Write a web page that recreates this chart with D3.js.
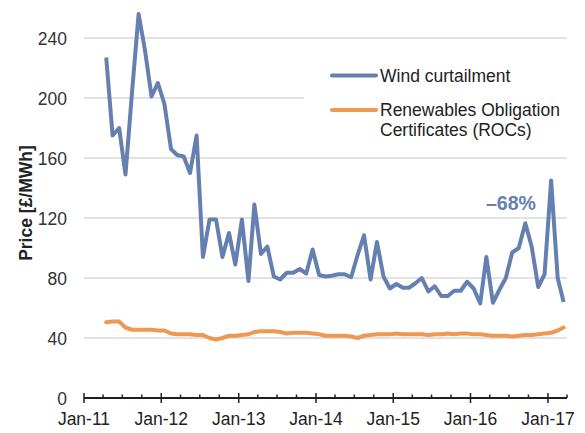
<!DOCTYPE html>
<html>
<head>
<meta charset="utf-8">
<script src="https://cdn.jsdelivr.net/npm/d3@7"></script>
<style>
  html, body { margin: 0; padding: 0; background: #fff; }
  text { font-family: "Liberation Sans", Arial, sans-serif; }
</style>
</head>
<body>
<div id="chart"></div>
<script>
// monthly prices, Apr-11 .. Mar-17
const months = d3.timeMonth.range(new Date(2011, 3, 1), new Date(2017, 3, 1));

const windCurtailment = [
  227, 175, 180, 149, 204, 256, 232, 201, 210,                 // 2011
  196, 166, 162, 161, 150, 175, 94, 119, 119, 94, 110, 89,     // 2012
  119, 78, 129, 96, 101, 81, 79, 83.5, 83.5, 86, 83, 99,       // 2013
  82, 81, 81.5, 82.5, 82.5, 80.5, 95, 108.5, 79, 104, 81, 73,  // 2014
  76, 73.5, 73.5, 76.5, 80, 71, 74.5, 68, 68, 71.5, 71.5, 77.5,// 2015
  73, 63, 94, 63.5, 72, 80, 97, 100, 116.5, 101, 74, 82.5,     // 2016
  145, 80, 64                                                  // 2017
];

const rocs = [
  50.5, 51, 51, 47, 45.5, 45.5, 45.5, 45.5, 45,
  45, 43, 42.5, 42.5, 42.5, 42, 42, 40, 39, 40, 41.5, 41.5,
  42, 42.5, 44, 44.5, 44.5, 44.5, 44, 43, 43.5, 43.5, 43.5, 43,
  42.5, 41.5, 41.5, 41.5, 41.5, 41, 40, 41.5, 42, 42.5, 42.5, 42.5,
  43, 42.5, 42.5, 42.5, 42.5, 42, 42.5, 42.5, 43, 42.5, 43, 43,
  42.5, 42.5, 42, 41.5, 41.5, 41.5, 41, 41.5, 42, 42, 42.5, 43,
  43.5, 45, 47
];

const yTicks = [0, 40, 80, 120, 160, 200, 240];
const seriesNames = ["Wind curtailment", ["Renewables Obligation", "Certificates (ROCs)"]];
const changeLabel = "\u201368%";

const BLUE = "#6580B0";
const ORANGE = "#EE9852";

const W = 585, H = 433;
const svg = d3.select("#chart").append("svg")
  .attr("width", W).attr("height", H);

const x = d3.scaleTime()
  .domain([new Date(2011, 0, 1), new Date(2017, 3, 1)])
  .range([84, 567]);

const y = d3.scaleLinear()
  .domain([0, 260])
  .range([398, 8]);

const mid = d => d3.timeDay.offset(d, 15);

// gridlines
svg.append("g")
  .selectAll("line")
  .data(yTicks.filter(v => v > 0))
  .enter().append("line")
  .attr("x1", x.range()[0]).attr("x2", x.range()[1])
  .attr("y1", d => y(d)).attr("y2", d => y(d))
  .attr("stroke", "#D9D9D9").attr("stroke-width", 1.5);

// y tick labels
svg.append("g")
  .selectAll("text")
  .data(yTicks)
  .enter().append("text")
  .attr("x", 67)
  .attr("y", d => y(d) + 6.5)
  .attr("text-anchor", "end")
  .style("font-size", "17.5px")
  .style("fill", "#333")
  .text(d => d);

// y title
svg.append("text")
  .attr("transform", "translate(32,203) rotate(-90)")
  .attr("text-anchor", "middle")
  .style("font-size", "17.5px")
  .style("font-weight", "bold")
  .style("fill", "#222")
  .text("Price [£/MWh]");

// lines
const line = d3.line()
  .x((d, i) => x(mid(months[i])))
  .y(d => y(d));

svg.append("path")
  .datum(rocs)
  .attr("d", line)
  .attr("fill", "none")
  .attr("stroke", ORANGE)
  .attr("stroke-width", 4)
  .attr("stroke-linejoin", "round")
  .attr("stroke-linecap", "round");

svg.append("path")
  .datum(windCurtailment)
  .attr("d", line)
  .attr("fill", "none")
  .attr("stroke", BLUE)
  .attr("stroke-width", 4)
  .attr("stroke-linejoin", "round");

// x axis
const xAxis = svg.append("g").attr("transform", `translate(0,${y(0)})`);
xAxis.append("line")
  .attr("x1", x.range()[0]).attr("x2", x.range()[1])
  .attr("stroke", "#231F20").attr("stroke-width", 2);

const quarters = d3.timeMonth.every(3).range(new Date(2011, 0, 1), new Date(2017, 3, 2));
xAxis.selectAll(".tick")
  .data(quarters)
  .enter().append("line")
  .attr("x1", d => x(d)).attr("x2", d => x(d))
  .attr("y1", d => d.getMonth() === 0 ? -5 : -3.5)
  .attr("y2", d => d.getMonth() === 0 ? 5 : 0)
  .attr("stroke", "#231F20").attr("stroke-width", 1.5);

xAxis.selectAll(".lbl")
  .data(quarters.filter(d => d.getMonth() === 0))
  .enter().append("text")
  .attr("x", d => x(d))
  .attr("y", 27)
  .attr("text-anchor", "middle")
  .style("font-size", "17.5px")
  .style("fill", "#222")
  .text(d3.timeFormat("%b-%y"));

// legend
const legend = svg.append("g");
legend.append("rect")
  .attr("x", 304).attr("y", 55).attr("width", 275).attr("height", 90)
  .attr("fill", "#fff");

[BLUE, ORANGE].forEach((c, i) => {
  const ly = [75.5, 110][i];
  legend.append("line")
    .attr("x1", 332).attr("x2", 376)
    .attr("y1", ly).attr("y2", ly)
    .attr("stroke", c).attr("stroke-width", 4).attr("stroke-linecap", "round");
  const lines = [].concat(seriesNames[i]);
  lines.forEach((t, j) => {
    legend.append("text")
      .attr("x", 380)
      .attr("y", ly + 6 + j * 20)
      .style("font-size", "17.5px")
      .style("fill", "#222")
      .text(t);
  });
});

// annotation
svg.append("text")
  .attr("x", 486).attr("y", 210)
  .style("font-size", "19.5px")
  .style("font-weight", "bold")
  .style("fill", BLUE)
  .text(changeLabel);
</script>
</body>
</html>
